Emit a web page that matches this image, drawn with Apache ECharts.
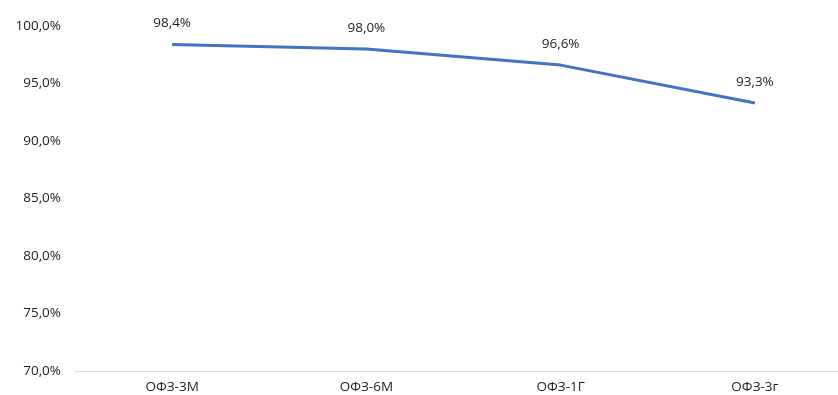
<!DOCTYPE html>
<html>
<head>
<meta charset="utf-8">
<script src="https://cdn.jsdelivr.net/npm/echarts@6/dist/echarts.min.js"></script>
<style>
  html, body { margin: 0; padding: 0; background: #ffffff; }
  #chart { width: 838px; height: 395px; }
</style>
</head>
<body>
<div id="chart"></div>
<script>
// Bond categories and their values (percent)
const categories = ['ОФЗ-3М', 'ОФЗ-6М', 'ОФЗ-1Г', 'ОФЗ-3г'];
const values = [98.4, 98.0, 96.6, 93.3];
const yMin = 70;
const yMax = 100;
const yStep = 5;

const fmt = (v, digits) => v.toFixed(digits).replace('.', ',') + '%';
const fontFamily = '"Open Sans", "Noto Sans", sans-serif';

const chart = echarts.init(document.getElementById('chart'));
chart.setOption({
  animation: false,
  backgroundColor: '#ffffff',
  grid: {
    left: 75, top: 26, bottom: 24, width: 777,
    containLabel: false,
    outerBoundsMode: 'none'
  },
  xAxis: {
    type: 'category',
    data: categories,
    boundaryGap: true,
    axisLine: { lineStyle: { color: '#d9d9d9', width: 1 } },
    axisTick: { show: false },
    axisLabel: { color: '#1e1e1e', fontSize: 13.5, fontFamily, margin: 9 }
  },
  yAxis: {
    type: 'value',
    min: yMin,
    max: yMax,
    interval: yStep,
    splitLine: { show: false },
    axisLine: { show: false },
    axisTick: { show: false },
    axisLabel: {
      color: '#1e1e1e', fontSize: 13.5, fontFamily, margin: 14,
      formatter: v => fmt(v, 1)
    }
  },
  series: [{
    type: 'line',
    data: values,
    symbol: 'circle',
    symbolSize: 0,
    showSymbol: true,
    lineStyle: { color: '#4472c4', width: 3 },
    itemStyle: { color: '#4472c4' },
    label: {
      show: true,
      position: 'top',
      distance: 14,
      color: '#1e1e1e',
      fontSize: 13.5,
      fontFamily,
      formatter: p => fmt(p.value, 1)
    }
  }]
});
</script>
</body>
</html>
